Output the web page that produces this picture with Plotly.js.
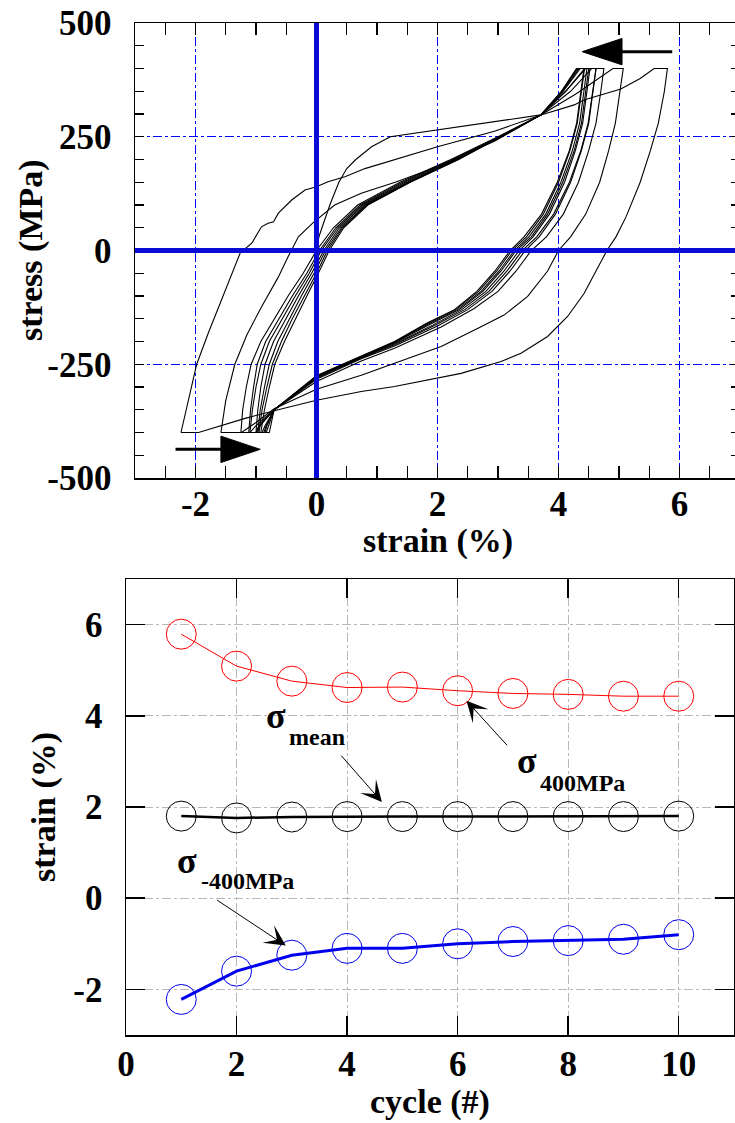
<!DOCTYPE html>
<html><head><meta charset="utf-8">
<script src="https://cdn.plot.ly/plotly-3.0.1.min.js"></script>
<style>html,body{margin:0;padding:0;overflow:hidden;background:#fff;width:735px;height:1123px}</style>
</head><body><div id="chart" style="width:745px;height:1123px"></div>
<script>
// ---------- Top chart: stress-strain hysteresis loops (strain %, stress MPa) ----------
const cycle1_strain = [0,0.04,0.09,0.22,0.37,0.5,0.65,0.91,1.22,2.0,2.94,3.71,4.26,4.42,5.03,5.35,5.58,5.8,
  5.75,5.65,5.52,5.35,5.12,4.95,4.8,4.62,4.42,4.15,3.82,3.38,3.05,2.39,1.84,1.29,0.74,0,-0.7,-1.18,-1.95,-2.24];
const cycle1_stress = [0,30,50,100,150,180,200,228,250,265,283,298,320,331,355,378,400,400,
  350,280,220,150,75,30,0,-45,-95,-145,-189,-226,-244,-270,-285,-299,-310,-329,-352,-369,-400,-400];

const cycle2_strain = [-2.24,-2.12,-1.98,-1.79,-1.57,-1.37,-1.26,-1.07,-0.91,-0.8,-0.71,-0.63,-0.41,-0.19,0,0.19,0.47,0.8,1.3,2.0,2.94,3.71,4.3,4.9,5.07,
  5.02,4.94,4.83,4.68,4.45,4.2,4.0,3.82,3.49,3.1,2.67,2.06,1.29,0.74,0,-0.7,-1.0,-1.24,-1.58];
const cycle2_stress = [-400,-329,-250,-182,-109,-43,-5,16,52,60,63,82,111,133,140,151,162,180,200,228,262,298,345,400,400,
  350,280,220,150,80,30,0,-45,-101,-142,-171,-211,-248,-274,-305,-348,-378,-400,-400];

const cycle3_strain = [-1.58,-1.5,-1.35,-1.15,-0.91,-0.63,-0.47,-0.3,-0.05,0.3,0.74,1.3,2.0,2.94,3.71,4.2,4.55,4.75,
  4.7,4.62,4.5,4.33,4.08,3.8,3.55,3.3,3.0,2.6,2.06,1.29,0.74,0,-0.7,-1.0,-1.1,-1.25];
const cycle3_stress = [-400,-330,-250,-185,-124,-58,-14,30,62,100,126,150,184,240,298,350,400,400,
  350,280,220,150,80,30,0,-45,-90,-128,-168,-215,-243,-288,-350,-385,-400,-400];

const cycle4_strain = [-1.25,-1.22,-1.16,-1.08,-0.92,-0.7,-0.47,-0.22,0.0,0.28,0.68,1.38,2.22,3.0,3.71,4.12,4.45,4.62,
  4.57,4.5,4.38,4.2,3.95,3.68,3.45,3.2,2.9,2.5,2.0,1.29,0.74,0,-0.7,-0.95,-1.0,-1.12];
const cycle4_stress = [-400,-350,-300,-250,-200,-150,-100,-50,0,50,100,150,200,250,298,350,400,400,
  350,280,220,150,80,30,0,-45,-90,-130,-166,-210,-238,-283,-350,-385,-400,-400];

const cycle5_strain = [-1.12,-1.09,-1.04,-0.98,-0.84,-0.62,-0.4,-0.16,0.05,0.32,0.72,1.42,2.25,3.02,3.71,4.12,4.43,4.62,
  4.57,4.49,4.37,4.18,3.92,3.64,3.4,3.15,2.85,2.45,1.95,1.29,0.74,0,-0.7,-0.93,-0.98,-1.1];
const cycle5_stress = [-400,-350,-300,-250,-200,-150,-100,-50,0,50,100,150,200,250,298,350,400,400,
  350,280,220,150,80,30,0,-45,-90,-130,-165,-207,-236,-281,-350,-385,-400,-400];

const cycle6_strain = [-1.1,-1.06,-1.0,-0.92,-0.78,-0.57,-0.35,-0.12,0.08,0.35,0.75,1.46,2.28,3.03,3.71,4.08,4.36,4.52,
  4.47,4.4,4.28,4.1,3.85,3.58,3.35,3.1,2.8,2.4,1.92,1.29,0.74,0,-0.7,-0.85,-0.9,-1.0];
const cycle6_stress = [-400,-350,-300,-250,-200,-150,-100,-50,0,50,100,150,200,250,298,350,400,400,
  350,280,220,150,80,30,0,-45,-90,-130,-164,-205,-235,-279,-350,-385,-400,-400];

const cycle7_strain = [-1.0,-0.97,-0.92,-0.85,-0.71,-0.51,-0.3,-0.08,0.12,0.38,0.78,1.5,2.3,3.04,3.71,4.07,4.34,4.5,
  4.45,4.38,4.26,4.07,3.82,3.55,3.3,3.05,2.75,2.36,1.88,1.29,0.74,0,-0.7,-0.83,-0.87,-0.97];
const cycle7_stress = [-400,-350,-300,-250,-200,-150,-100,-50,0,50,100,150,200,250,298,350,400,400,
  350,280,220,150,80,30,0,-45,-90,-130,-162,-203,-234,-278,-350,-385,-400,-400];

const cycle8_strain = [-0.97,-0.93,-0.86,-0.78,-0.64,-0.45,-0.25,-0.04,0.15,0.41,0.81,1.52,2.32,3.04,3.71,4.06,4.32,4.47,
  4.42,4.35,4.23,4.04,3.79,3.51,3.27,3.02,2.72,2.33,1.86,1.29,0.74,0,-0.7,-0.82,-0.85,-0.95];
const cycle8_stress = [-400,-350,-300,-250,-200,-150,-100,-50,0,50,100,150,200,250,298,350,400,400,
  350,280,220,150,80,30,0,-45,-90,-130,-161,-202,-233,-277,-350,-385,-400,-400];

const cycle9_strain = [-0.95,-0.9,-0.82,-0.73,-0.58,-0.4,-0.2,0.0,0.18,0.43,0.83,1.54,2.34,3.05,3.71,4.05,4.3,4.43,
  4.38,4.31,4.19,4.0,3.75,3.47,3.23,2.98,2.68,2.3,1.84,1.29,0.74,0,-0.7,-0.8,-0.83,-0.92];
const cycle9_stress = [-400,-350,-300,-250,-200,-150,-100,-50,0,50,100,150,200,250,298,350,400,400,
  350,280,220,150,80,30,0,-45,-90,-130,-160,-201,-233,-276,-350,-385,-400,-400];

const cycle10_strain = [-0.92,-0.86,-0.78,-0.69,-0.53,-0.35,-0.16,0.03,0.21,0.45,0.85,1.55,2.35,3.05,3.71,4.05,4.3,4.42,
  4.37,4.3,4.18,3.98,3.72,3.43,3.2,2.95,2.65,2.28,1.82,1.29,0.74,0,-0.7,-0.76,-0.78,-0.85];
const cycle10_stress = [-400,-350,-300,-250,-200,-150,-100,-50,0,50,100,150,200,250,298,350,400,400,
  350,280,220,150,80,30,0,-45,-90,-130,-160,-200,-232,-275,-350,-385,-400,-400];

const loopStrains = [cycle1_strain,cycle2_strain,cycle3_strain,cycle4_strain,cycle5_strain,
  cycle6_strain,cycle7_strain,cycle8_strain,cycle9_strain,cycle10_strain];
const loopStresses = [cycle1_stress,cycle2_stress,cycle3_stress,cycle4_stress,cycle5_stress,
  cycle6_stress,cycle7_stress,cycle8_stress,cycle9_stress,cycle10_stress];

// ---------- Bottom chart: strain vs cycle ----------
const cycles = [1,2,3,4,5,6,7,8,9,10];
const strainAt400 = [5.79,5.09,4.76,4.62,4.63,4.55,4.49,4.47,4.43,4.43];
const strainMean  = [1.8,1.76,1.78,1.79,1.79,1.79,1.79,1.79,1.79,1.8];
const strainAtM400 = [-2.22,-1.6,-1.25,-1.1,-1.1,-1.0,-0.95,-0.93,-0.9,-0.8];

// tick labels
const topXTicks = [-2,0,2,4,6];
const topXLabels = ['-2','0','2','4','6'];
const topYTicks = [-500,-250,0,250,500];
const topYLabels = ['-500','-250','0','250','500'];
const botXTicks = [0,2,4,6,8,10];
const botXLabels = ['0','2','4','6','8','10'];
const botYTicks = [-2,0,2,4,6];
const botYLabels = ['-2','0','2','4','6'];

const FONT = 'Liberation Serif, Times New Roman, serif';
const W = 745, H = 1123;
const tickFont = {family: FONT, size: 35, color: '#000', weight: 'bold'};
const titleFont = {family: FONT, size: 34, color: '#000', weight: 'bold'};

const traces = [];
for (let i = 0; i < loopStrains.length; i++) {
  traces.push({x: loopStrains[i], y: loopStresses[i], xaxis: 'x', yaxis: 'y', mode: 'lines',
    line: {color: '#000', width: 1.1}, showlegend: false, hoverinfo: 'skip'});
}
traces.push({x: cycles, y: strainAt400, xaxis: 'x2', yaxis: 'y2', mode: 'lines+markers',
  line: {color: '#ff0000', width: 1}, marker: {symbol: 'circle-open', size: 30, color: '#ff0000', line: {width: 1}}, showlegend: false});
traces.push({x: cycles, y: strainMean, xaxis: 'x2', yaxis: 'y2', mode: 'lines+markers',
  line: {color: '#000', width: 2.5}, marker: {symbol: 'circle-open', size: 30, color: '#000', line: {width: 1}}, showlegend: false});
traces.push({x: cycles, y: strainAtM400, xaxis: 'x2', yaxis: 'y2', mode: 'lines+markers',
  line: {color: '#0000ee', width: 3}, marker: {symbol: 'circle-open', size: 30, color: '#0000ee', line: {width: 1}}, showlegend: false});

const BLUE = '#0a0ad6';
const GRIDBLUE = '#0000ff';

// vertical grid lines of the top chart (at non-zero major x ticks) and the zero axes on top of the loops
const shapes = [];
topXTicks.filter(v => v !== 0).forEach(v => shapes.push({type: 'line', xref: 'x', yref: 'y domain', x0: v, x1: v, y0: 0, y1: 1,
  layer: 'below', line: {color: GRIDBLUE, width: 1, dash: 'dashdot'}}));
shapes.push({type: 'line', xref: 'x', yref: 'y domain', x0: 0, x1: 0, y0: 0, y1: 1, layer: 'above', line: {color: BLUE, width: 5}});
shapes.push({type: 'line', xref: 'x domain', yref: 'y', x0: 0, x1: 1, y0: 0, y1: 0, layer: 'above', line: {color: BLUE, width: 5}});
// big arrows of the top chart
shapes.push({type: 'line', xref: 'x', yref: 'y', x0: 5.88, x1: 5.0, y0: 437, y1: 437, line: {color: '#000', width: 3}});
shapes.push({type: 'path', xref: 'x', yref: 'y', path: 'M 4.39,437 L 5.05,466 L 5.05,408 Z', fillcolor: '#000', line: {color: '#000', width: 1}});
shapes.push({type: 'line', xref: 'x', yref: 'y', x0: -2.33, x1: -1.55, y0: -437, y1: -437, line: {color: '#000', width: 3}});
shapes.push({type: 'path', xref: 'x', yref: 'y', path: 'M -0.93,-437 L -1.58,-408 L -1.58,-466 Z', fillcolor: '#000', line: {color: '#000', width: 1}});

const layout = {
  width: W, height: H, margin: {l: 0, r: 0, t: 0, b: 0},
  paper_bgcolor: '#fff', plot_bgcolor: '#fff', showlegend: false,
  font: {family: FONT, color: '#000'},
  xaxis: {
    domain: [135/W, 740/W], anchor: 'y', range: [-3, 7],
    tickmode: 'array', tickvals: topXTicks, ticktext: topXLabels,
    ticks: 'inside', ticklen: 12, tickwidth: 1.2, tickcolor: '#000',
    minor: {tickmode: 'linear', tick0: 0, dtick: 0.5, ticks: 'inside', ticklen: 12, tickwidth: 1.2, tickcolor: '#000', showgrid: false},
    showline: true, linecolor: '#000', linewidth: 1.5, mirror: 'ticks',
    showgrid: false, zeroline: false,
    tickfont: tickFont, ticklabelstandoff: -6
  },
  yaxis: {
    domain: [1 - 478/H, 1 - 23/H], anchor: 'x', range: [-500, 500],
    tickmode: 'array', tickvals: topYTicks, ticktext: topYLabels,
    ticks: 'inside', ticklen: 9, tickwidth: 1.2, tickcolor: '#000',
    minor: {tickmode: 'linear', tick0: 0, dtick: 50, ticks: 'inside', ticklen: 9, tickwidth: 1.2, tickcolor: '#000', showgrid: false},
    showline: true, linecolor: '#000', linewidth: 1.5, mirror: 'ticks',
    showgrid: true, gridcolor: GRIDBLUE, griddash: 'dashdot', gridwidth: 1,
    zeroline: false,
    tickfont: tickFont, ticklabelstandoff: 15
  },
  xaxis2: {
    domain: [126/W, 734/W], anchor: 'y2', range: [0, 11],
    tickmode: 'array', tickvals: botXTicks, ticktext: botXLabels,
    ticks: 'inside', ticklen: 19, tickwidth: 1.5, tickcolor: '#000',
    showline: true, linecolor: '#000', linewidth: 1.5, mirror: 'ticks',
    showgrid: true, gridcolor: '#b8b8b8', griddash: 'dashdot', gridwidth: 1,
    zeroline: false, tickfont: tickFont, ticklabelstandoff: -3
  },
  yaxis2: {
    domain: [1 - 1035/H, 1 - 579/H], anchor: 'x2', range: [-3, 7],
    tickmode: 'array', tickvals: botYTicks, ticktext: botYLabels,
    ticks: 'inside', ticklen: 19, tickwidth: 1.5, tickcolor: '#000',
    showline: true, linecolor: '#000', linewidth: 1.5, mirror: 'ticks',
    showgrid: true, gridcolor: '#b8b8b8', griddash: 'dashdot', gridwidth: 1,
    zeroline: false, tickfont: tickFont, ticklabelstandoff: 15
  },
  shapes: shapes,
  annotations: [
    // axis titles
    {xref: 'paper', yref: 'paper', x: 437.5/W, y: 1 - 541/H, text: 'strain (%)', showarrow: false, xanchor: 'center', yanchor: 'middle', font: titleFont},
    {xref: 'paper', yref: 'paper', x: 31/W, y: 1 - 250/H, text: 'stress (MPa)', textangle: -90, showarrow: false, xanchor: 'center', yanchor: 'middle', font: titleFont},
    {xref: 'paper', yref: 'paper', x: 430/W, y: 1 - 1102/H, text: 'cycle (#)', showarrow: false, xanchor: 'center', yanchor: 'middle', font: titleFont},
    {xref: 'paper', yref: 'paper', x: 44/W, y: 1 - 807/H, text: 'strain (%)', textangle: -90, showarrow: false, xanchor: 'center', yanchor: 'middle', font: titleFont},
    // sigma labels
    {xref: 'x2', yref: 'y2', x: 2.72, y: 3.99, text: 'σ', showarrow: false, font: {family: FONT, size: 36, weight: 'bold'}},
    {xref: 'x2', yref: 'y2', x: 3.46, y: 3.54, text: 'mean', showarrow: false, font: {family: FONT, size: 24, weight: 'bold'}},
    {xref: 'x2', yref: 'y2', x: 7.26, y: 3.01, text: 'σ', showarrow: false, font: {family: FONT, size: 36, weight: 'bold'}},
    {xref: 'x2', yref: 'y2', x: 8.26, y: 2.52, text: '400MPa', showarrow: false, font: {family: FONT, size: 24, weight: 'bold'}},
    {xref: 'x2', yref: 'y2', x: 1.11, y: 0.81, text: 'σ', showarrow: false, font: {family: FONT, size: 36, weight: 'bold'}},
    {xref: 'x2', yref: 'y2', x: 2.19, y: 0.37, text: '-400MPa', showarrow: false, font: {family: FONT, size: 24, weight: 'bold'}},
    // arrows
    {xref: 'x2', yref: 'y2', axref: 'x2', ayref: 'y2', x: 4.63, y: 2.11, ax: 3.87, ay: 3.16, text: '', showarrow: true, arrowhead: 3, arrowsize: 3.5, arrowwidth: 1, arrowcolor: '#000'},
    {xref: 'x2', yref: 'y2', axref: 'x2', ayref: 'y2', x: 6.16, y: 4.33, ax: 6.92, ay: 3.32, text: '', showarrow: true, arrowhead: 3, arrowsize: 3.5, arrowwidth: 1, arrowcolor: '#000'},
    {xref: 'x2', yref: 'y2', axref: 'x2', ayref: 'y2', x: 2.89, y: -1.04, ax: 1.62, ay: -0.02, text: '', showarrow: true, arrowhead: 3, arrowsize: 3.5, arrowwidth: 1, arrowcolor: '#000'}
  ]
};

Plotly.newPlot('chart', traces, layout, {staticPlot: true, displayModeBar: false});
</script></body></html>
